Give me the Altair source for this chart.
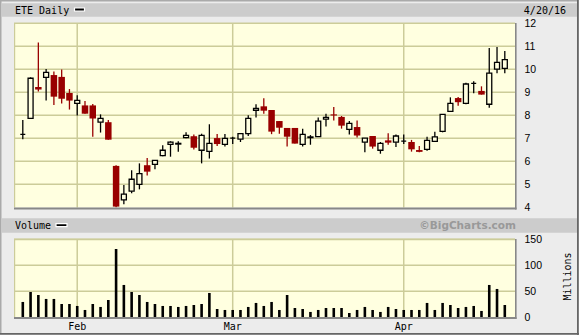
import altair as alt
import pandas as pd

# ---------------- data ----------------
dates = [
    "2016-01-21", "2016-01-22", "2016-01-25", "2016-01-26", "2016-01-27", "2016-01-28", "2016-01-29",
    "2016-02-01", "2016-02-02", "2016-02-03", "2016-02-04", "2016-02-05", "2016-02-08", "2016-02-09",
    "2016-02-10", "2016-02-11", "2016-02-12", "2016-02-16", "2016-02-17", "2016-02-18", "2016-02-19",
    "2016-02-22", "2016-02-23", "2016-02-24", "2016-02-25", "2016-02-26", "2016-02-29",
    "2016-03-01", "2016-03-02", "2016-03-03", "2016-03-04", "2016-03-07", "2016-03-08", "2016-03-09",
    "2016-03-10", "2016-03-11", "2016-03-14", "2016-03-15", "2016-03-16", "2016-03-17", "2016-03-18",
    "2016-03-21", "2016-03-22", "2016-03-23", "2016-03-24", "2016-03-28", "2016-03-29", "2016-03-30",
    "2016-03-31", "2016-04-01", "2016-04-04", "2016-04-05", "2016-04-06", "2016-04-07", "2016-04-08",
    "2016-04-11", "2016-04-12", "2016-04-13", "2016-04-14", "2016-04-15", "2016-04-18", "2016-04-19",
    "2016-04-20",
]
open_ = [7.17, 7.87, 9.23, 9.65, 9.75, 9.67, 8.97, 8.52, 8.43, 8.43, 7.70, 7.70, 5.80, 4.32,
         4.70, 5.00, 5.83, 5.87, 6.25, 6.74, 6.75, 7.03, 7.09, 6.48, 6.43, 7.01, 6.74,
         7.01, 6.96, 7.20, 8.22, 8.39, 8.23, 7.75, 7.45, 7.45, 6.74, 7.03, 7.07, 7.83, 8.04,
         7.93, 7.39, 7.49, 6.83, 7.10, 6.48, 6.91, 6.83, 6.88, 6.84, 6.49, 6.52, 6.87, 7.30,
         8.17, 8.75, 8.52, 9.39, 9.06, 8.48, 10.01, 10.04]
high = [7.80, 9.65, 11.16, 10.01, 9.90, 9.99, 9.14, 8.87, 8.62, 8.49, 8.04, 7.80, 5.83, 4.97,
        5.61, 5.91, 6.14, 6.04, 6.70, 6.87, 6.87, 7.26, 7.17, 7.20, 7.61, 7.19, 7.19,
        7.07, 7.20, 8.00, 8.48, 8.74, 8.23, 7.75, 7.45, 7.45, 7.41, 7.14, 7.90, 8.07, 8.36,
        7.97, 7.75, 7.77, 7.01, 7.10, 6.84, 7.22, 7.16, 7.16, 6.93, 6.67, 7.07, 7.28, 8.04,
        8.78, 8.80, 9.41, 9.48, 9.26, 10.93, 10.97, 10.80]
low = [6.96, 7.84, 9.03, 8.64, 8.45, 8.51, 8.25, 7.99, 8.07, 7.07, 7.25, 6.94, 4.00, 4.13,
       4.61, 4.78, 5.38, 5.65, 6.22, 6.20, 6.42, 7.00, 6.51, 5.91, 6.12, 6.67, 6.64,
       6.75, 6.84, 7.10, 7.90, 8.07, 7.18, 7.20, 6.64, 6.77, 6.64, 6.72, 7.07, 7.51, 7.77,
       7.42, 7.16, 7.04, 6.39, 6.55, 6.33, 6.72, 6.62, 6.75, 6.42, 6.39, 6.46, 6.87, 7.26,
       8.17, 8.42, 8.48, 8.96, 8.90, 8.33, 9.83, 9.83]
close = [7.17, 9.61, 9.12, 9.87, 8.81, 8.72, 8.64, 8.65, 8.07, 7.86, 7.87, 6.94, 4.03, 4.57,
         5.22, 5.46, 5.55, 6.04, 6.48, 6.83, 6.78, 7.13, 6.59, 7.13, 6.78, 6.75, 7.00,
         7.01, 7.20, 7.87, 8.30, 8.20, 7.29, 7.46, 7.07, 6.77, 7.17, 7.06, 7.75, 7.91, 7.99,
         7.55, 7.65, 7.12, 7.01, 6.64, 6.78, 6.81, 7.10, 6.88, 6.52, 6.41, 6.91, 7.06, 8.04,
         8.52, 8.57, 9.36, 9.39, 8.90, 9.83, 10.30, 10.42]
volume = [29.5, 48.7, 42.9, 35.3, 35.3, 25.6, 25.6, 21.8, 14.1, 25.6, 19.9, 33.3, 131.4, 62.2,
          48.7, 42.9, 29.5, 25.6, 21.8, 21.8, 19.9, 21.8, 23.7, 25.6, 46.8, 16.0, 14.1,
          14.1, 14.1, 19.9, 27.6, 21.8, 29.5, 14.1, 42.9, 17.9, 16.0, 10.3, 14.1, 17.9, 17.9,
          17.9, 8.3, 14.1, 19.9, 14.1, 10.3, 19.9, 16.0, 14.1, 14.1, 14.1, 27.6, 14.1, 27.6,
          23.7, 17.9, 19.9, 21.8, 12.2, 62.2, 54.5, 23.7]
price_ticks = [4, 5, 6, 7, 8, 9, 10, 11, 12]
volume_ticks = [0, 50, 100, 150]
title_text = "ETE Daily"
date_text = "4/20/16"
volume_title = "Volume"
credit_text = "\u00a9BigCharts.com"

# ---------------- tables ----------------
df = pd.DataFrame({"date": dates, "open": open_, "high": high, "low": low,
                   "close": close, "volume": volume})
df["i"] = range(len(df))
df["dir"] = ["up" if c >= o else "down" for o, c in zip(open_, close)]

dt = pd.to_datetime(df["date"])
month_idx = [i for i in range(1, len(dt)) if dt[i].month != dt[i - 1].month]
months = pd.DataFrame({"i": month_idx, "m": [dt[i].strftime("%b") for i in month_idx]})
pgrid = pd.DataFrame({"p": [t for t in price_ticks if t > min(price_ticks)]})
vgrid = pd.DataFrame({"v": [t for t in volume_ticks if t > 0]})
one = pd.DataFrame({"k": [0]})

# ---------------- style ----------------
BG = "#ECECEC"
BAND = "#CCCCCC"
PLOT = "#FFFFE0"
GRID = "#CCCC99"
RED = "#990000"
MONO = "DejaVu Sans Mono"
SANS = "Liberation Sans"

N = len(df)
xs = alt.Scale(domain=[0, N - 1], range=[17.8, 509.8], nice=False, zero=False)
ps = alt.Scale(domain=[min(price_ticks), max(price_ticks)], range=[207.3, 23.3], nice=False, zero=False)
vs = alt.Scale(domain=[min(volume_ticks), max(volume_ticks)], range=[317.3, 239.3], nice=False, zero=False)

X = alt.X("i:Q", scale=xs, axis=None)

price_axis = alt.Axis(orient="right", offset=-63, values=price_ticks, ticks=False, tickSize=0,
                      domain=False, grid=False, labelPadding=8, labelFont=SANS, labelFontSize=10.5,
                      labelColor="#000000", title=None, labelOverlap=False, labelFlush=False, format="d")
vol_axis = alt.Axis(orient="right", offset=-63, values=volume_ticks, ticks=False, tickSize=0,
                    domain=False, grid=False, labelPadding=8, labelFont=SANS, labelFontSize=10.5,
                    labelColor="#000000", labelOverlap=False, labelFlush=False, format="d",
                    title="Millions", titleAngle=270, titleX=51, titleY=276, titleAlign="center",
                    titleBaseline="middle", titleFont=MONO, titleFontSize=10,
                    titleFontWeight="normal", titleColor="#000000")


def box(x1, x2, y1, y2, **kw):
    return alt.Chart(one).mark_rect(**kw).encode(
        x=alt.value(x1), x2=alt.value(x2), y=alt.value(y1), y2=alt.value(y2))


def hline(x1, x2, y, color, w):
    return alt.Chart(one).mark_rule(color=color, strokeWidth=w).encode(
        x=alt.value(x1), x2=alt.value(x2), y=alt.value(y))


def vline(x, y1, y2, color, w):
    return alt.Chart(one).mark_rule(color=color, strokeWidth=w).encode(
        x=alt.value(x), y=alt.value(y1), y2=alt.value(y2))


def label(text, x, y, align="left", font=MONO, size=10, weight="normal", color="#000000"):
    return alt.Chart(pd.DataFrame({"t": [text]})).mark_text(
        align=align, baseline="middle", font=font, fontSize=size, fontWeight=weight, color=color
    ).encode(x=alt.value(x), y=alt.value(y), text="t:N")


# frame and bands
bands = [
    box(2, 577, 3.3, 16.7, color=BAND),
    box(2, 577, 218.3, 232.7, color=BAND),
    box(14, 515.5, 23, 207.5, color=PLOT),
    box(14, 515.5, 239, 317.5, color=PLOT),
]

# gridlines
grid_price = alt.Chart(pgrid).mark_rule(color=GRID, strokeWidth=1.5).encode(
    x=alt.value(14), x2=alt.value(515), y=alt.Y("p:Q", scale=ps, axis=price_axis))
grid_vol = alt.Chart(vgrid).mark_rule(color=GRID, strokeWidth=1.5).encode(
    x=alt.value(14), x2=alt.value(515), y=alt.Y("v:Q", scale=vs, axis=None))
vgrid_price = alt.Chart(months).mark_rule(color=GRID, strokeWidth=1.5).encode(
    x=X, y=alt.value(23), y2=alt.value(207.5))
vgrid_vol = alt.Chart(months).mark_rule(color=GRID, strokeWidth=1.5).encode(
    x=X, y=alt.value(239), y2=alt.value(317.5))
grid_vol_top = hline(14, 515, 239.6, GRID, 1.5)
left_p = vline(14.6, 23, 207.5, GRID, 1.2)
left_v = vline(14.6, 239, 317.5, GRID, 1.2)

# candles
base = alt.Chart(df)
wick_up = base.transform_filter(alt.datum.dir == "up").mark_rule(color="#000000", strokeWidth=1.3).encode(
    x=X, y=alt.Y("low:Q", scale=ps, axis=None), y2="high:Q")
wick_dn = base.transform_filter(alt.datum.dir == "down").mark_rule(color=RED, strokeWidth=1.3).encode(
    x=X, y=alt.Y("low:Q", scale=ps, axis=None), y2="high:Q")
body_up = base.transform_filter(alt.datum.dir == "up").mark_bar(
    size=5, fill=PLOT, stroke="#000000", strokeWidth=1.3).encode(
    x=X, y=alt.Y("open:Q", scale=ps, axis=None), y2="close:Q")
body_dn = base.transform_filter(alt.datum.dir == "down").mark_bar(
    size=6.5, color=RED).encode(
    x=X, y=alt.Y("open:Q", scale=ps, axis=None), y2="close:Q")

# volume
vol = base.mark_bar(size=2.6, color="#000000").encode(
    x=X, y=alt.Y("volume:Q", scale=vs, axis=vol_axis), y2=alt.datum(0))

# month labels
mlabels = alt.Chart(months).mark_text(font=MONO, fontSize=10, baseline="middle", align="center",
                                      color="#000000").encode(x=X, y=alt.value(326.5), text="m:N")

# borders
borders = [
    hline(14, 516.5, 208.5, "#888888", 2),
    vline(515.8, 23, 209.5, "#888888", 1.6),
    hline(14, 516.5, 318, "#888888", 2),
    vline(515.8, 239, 319, "#888888", 1.6),
    box(0.75, 578.25, 0.75, 334.25, fill=None, stroke="#AAAAAA", strokeWidth=1.5),
    hline(0, 579, 333.8, "#666666", 1.6),
    vline(577.8, 0, 335, "#666666", 1.6),
]

# texts
texts = [
    label(title_text, 15, 10.5),
    box(74.5, 84.5, 8, 11, fill="#000000", stroke="#FFFFFF", strokeWidth=1.2),
    label(date_text, 566, 10.5, align="right"),
    label(volume_title, 15, 226),
    box(56, 67, 223.7, 226.7, fill="#000000", stroke="#FFFFFF", strokeWidth=1.2),
    label(credit_text, 516, 225.5, align="right", font="DejaVu Sans", size=10.5,
          weight="bold", color="#999999"),
]

chart = alt.layer(
    *bands,
    grid_price, grid_vol, grid_vol_top, vgrid_price, vgrid_vol, left_p, left_v,
    wick_up, wick_dn, body_up, body_dn,
    vol, mlabels,
    *borders, *texts,
).resolve_scale(y="independent").properties(
    width=579, height=335, autosize=alt.AutoSizeParams(type="none"), padding=0,
    background=BG,
).configure_view(stroke=None)

chart.save("out.html", embed_options={"renderer": "svg", "actions": False})
